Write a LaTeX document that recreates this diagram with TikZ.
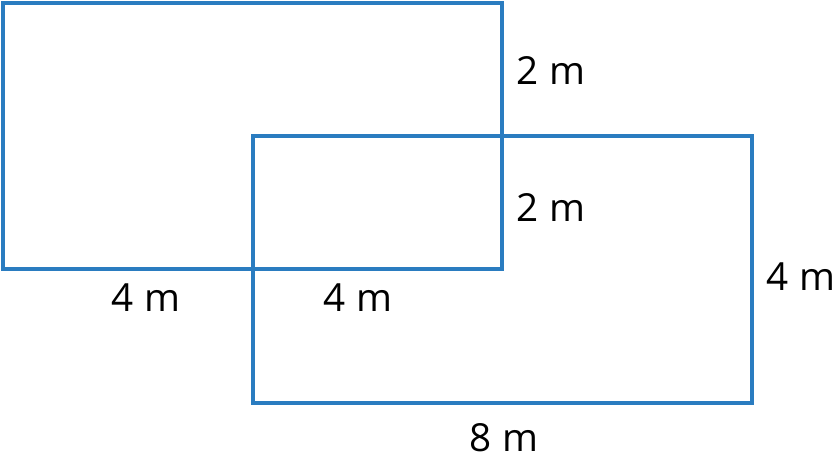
\documentclass[tikz,border=0pt]{standalone}
\usepackage{fontspec}
\setmainfont{Open Sans}
\definecolor{rb}{HTML}{2A7CC0}
\begin{document}
\begin{tikzpicture}[x=0.03cm,y=-0.03cm,
  box/.style={draw=rb,line width=3pt},
  lab/.style={font=\fontsize{33}{36}\selectfont,inner sep=0pt}]
\useasboundingbox (0,0) rectangle (839,466);
\draw[box] (3,3) rectangle (502,269);
\draw[box] (253,136) rectangle (752,403);
\node[lab] (a) at (551,70) {2 m};
\node[lab] (b) at (551,207) {2 m};
\node[lab] (c) at (146,298) {4 m};
\node[lab] (d) at (358,298) {4 m};
\node[lab] (e) at (801,277) {4 m};
\node[lab] (f) at (504,438) {8 m};
\end{tikzpicture}
\end{document}
